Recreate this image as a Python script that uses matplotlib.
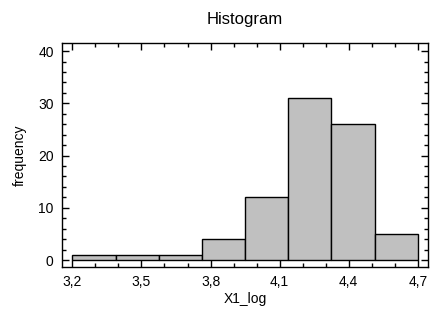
import numpy as np
import matplotlib.pyplot as plt
from matplotlib.ticker import MultipleLocator, FuncFormatter

# histogram bins and counts
bin_edges = np.linspace(3.2, 4.7, 9)
counts = [1, 1, 1, 4, 12, 31, 26, 5]
xticks = [3.2, 3.5, 3.8, 4.1, 4.4, 4.7]

plt.rcParams['font.family'] = ['Liberation Sans', 'DejaVu Sans']
plt.rcParams['font.size'] = 10

fig = plt.figure(figsize=(4.46, 3.23), dpi=100)
ax = fig.add_axes([0.139, 0.174, 0.821, 0.692])

ax.bar(bin_edges[:-1], counts, width=np.diff(bin_edges), align='edge',
       color='#c0c0c0', edgecolor='black', linewidth=1)

ax.set_xlim(3.155, 4.745)
ax.set_ylim(-1.3, 41.5)
ax.set_xticks(xticks)
ax.xaxis.set_minor_locator(MultipleLocator(0.1))
ax.yaxis.set_major_locator(MultipleLocator(10))
ax.yaxis.set_minor_locator(MultipleLocator(2))
ax.xaxis.set_major_formatter(FuncFormatter(lambda v, p: f"{v:.1f}".replace('.', ',')))
ax.yaxis.set_major_formatter(FuncFormatter(lambda v, p: f"{v:.0f}"))

ax.tick_params(which='both', direction='in', top=True, right=True, width=1)
ax.tick_params(which='major', length=5)
ax.tick_params(axis='x', which='major', pad=6)
ax.tick_params(axis='y', which='major', pad=6)
ax.tick_params(which='minor', length=3)
for s in ax.spines.values():
    s.set_linewidth(1)

ax.set_title("Histogram", pad=14)
ax.set_xlabel("X1_log", labelpad=2)
ax.set_ylabel("frequency", labelpad=8)

fig.savefig("out.png", dpi=100)
